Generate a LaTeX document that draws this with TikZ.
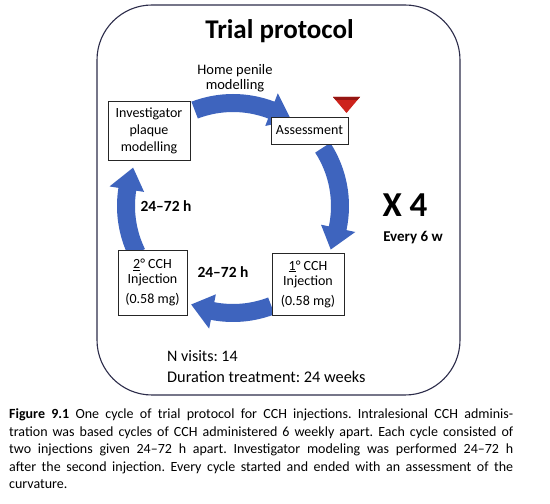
\documentclass[tikz,border=0pt]{standalone}
\usepackage{fontspec}
\setmainfont{Carlito}
\usetikzlibrary{calc}
\frenchspacing
\definecolor{arrowblue}{RGB}{62,100,190}
\definecolor{trired}{RGB}{205,35,28}
\definecolor{tridark}{RGB}{150,22,18}
\definecolor{framecol}{RGB}{45,45,75}
\newcommand\cwarrow[4]{% center, start angle, head base angle, tip angle
  \fill[arrowblue] ($(#1)+(#2:116pt)$) arc[start angle=#2, end angle=#3, radius=116pt]
    -- ($(#1)+(#3:125pt)$) -- ($(#1)+(#4:107pt)$) -- ($(#1)+(#3:90pt)$)
    -- ($(#1)+(#3:98pt)$) arc[start angle=#3, end angle=#2, radius=98pt] -- cycle;}
\tikzset{
  box/.style={draw=black!85, line width=0.8pt, fill=white, inner sep=0pt, align=center,
    font=\fontsize{14}{17}\selectfont},
  lbl/.style={anchor=base, inner sep=0pt},
  captionline/.style={anchor=base west, inner sep=0pt, font=\fontsize{14}{16}\selectfont}
}
\begin{document}
\begin{tikzpicture}[x=1pt,y=1pt]
\useasboundingbox (0,0) rectangle (550,504);
\fill[white] (0,0) rectangle (550,504);
% frame
\draw[framecol, line width=1.1pt, rounded corners=55pt] (97,109) rectangle (460,499);
\node[lbl, font=\bfseries\fontsize{27}{32}\selectfont] (title) at (279.5,465) {Trial protocol};
% arrows
\coordinate (C) at (233,298);
\coordinate (Ct) at (233,294);
\cwarrow{Ct}{111}{69}{57}
\cwarrow{C}{33}{-12}{-24}
\cwarrow{C}{-69}{-101}{-113}
\cwarrow{C}{206}{171}{159}
% boxes
\node[box, minimum width=82pt, minimum height=59pt] (inv) at (149,373.5) {Investigator\\plaque\\modelling};
\node[box, minimum width=77pt, minimum height=27pt] (ass) at (309.5,373.5) {Assessment};
\node[box, minimum width=72pt, minimum height=62pt, font=\fontsize{14}{15}\selectfont] (c1) at (308,220) {\underline{1}° CCH\\Injection\\[5pt](0.58 mg)};
\node[box, minimum width=69pt, minimum height=65pt, font=\fontsize{14}{15}\selectfont] (c2) at (152.5,221.5) {\underline{2}° CCH\\Injection\\[5pt](0.58 mg)};
% red marker
\fill[trired] (333,407) -- (360,407) -- (346.5,391) -- cycle;
\fill[tridark] (333,407) -- (360,407) -- (357.3,404) -- (335.7,404) -- cycle;
% labels
\node[lbl, font=\fontsize{14.5}{15}\selectfont] (home1) at (235,429) {Home penile};
\node[lbl, font=\fontsize{14.5}{15}\selectfont] (home2) at (235,414) {modelling};
\node[lbl, font=\bfseries\fontsize{15.5}{17}\selectfont] (h1) at (166,292) {24–72 h};
\node[lbl, font=\bfseries\fontsize{15.5}{17}\selectfont] (h2) at (223,226) {24–72 h};
\node[lbl, font=\bfseries\fontsize{35}{40}\selectfont] (x4) at (405,287) {X 4};
\node[lbl, font=\bfseries\fontsize{15}{17}\selectfont] (ev) at (413,262) {Every 6 w};
\node[anchor=base west, inner sep=0pt, font=\fontsize{16}{18}\selectfont] (nv) at (167,142) {N visits: 14};
\node[anchor=base west, inner sep=0pt, font=\fontsize{16.3}{18}\selectfont] (dur) at (167,121) {Duration treatment: 24 weeks};
% caption
\node[captionline] (cap1) at (9,85) {\makebox[504pt][s]{\textbf{Figure 9.1} One cycle of trial protocol for CCH injections. Intralesional CCH adminis-}};
\node[captionline] (cap2) at (9,67.5) {\makebox[504pt][s]{tration was based cycles of CCH administered 6 weekly apart. Each cycle consisted of}};
\node[captionline] (cap3) at (9,50) {\makebox[504pt][s]{two injections given 24–72 h apart. Investigator modeling was performed 24–72 h}};
\node[captionline] (cap4) at (9,32.5) {\makebox[504pt][s]{after the second injection. Every cycle started and ended with an assessment of the}};
\node[captionline] (cap5) at (9,15) {curvature.};
\end{tikzpicture}
\end{document}
